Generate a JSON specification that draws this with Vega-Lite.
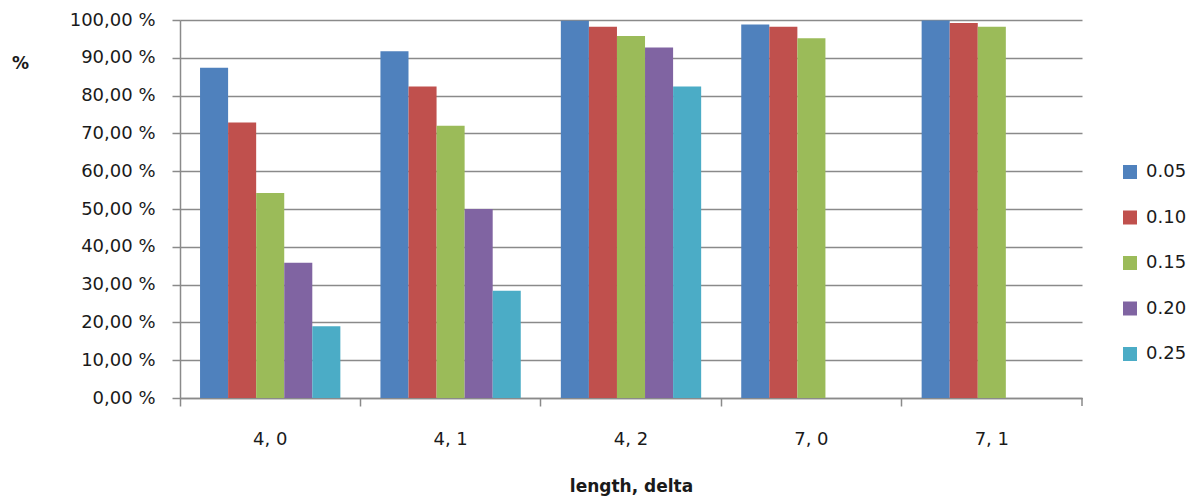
{
  "$schema": "https://vega.github.io/schema/vega-lite/v6.json",
  "width": 902,
  "height": 378,
  "autosize": {"type": "none"},
  "padding": {"left": 180, "top": 20, "right": 121, "bottom": 103},
  "background": "white",
  "config": {
    "view": {"stroke": null},
    "font": "DejaVu Sans",
    "axis": {
      "labelFont": "DejaVu Sans",
      "labelFontSize": 18,
      "labelColor": "#1a1a1a",
      "domainColor": "#8a8a8a",
      "domainWidth": 1.5,
      "tickColor": "#8a8a8a",
      "tickWidth": 1.5,
      "gridColor": "#8a8a8a",
      "gridWidth": 1.5,
      "titleFont": "DejaVu Sans",
      "titleFontWeight": "bold",
      "titleColor": "#1a1a1a"
    },
    "legend": {
      "labelFont": "DejaVu Sans",
      "labelFontSize": 18,
      "labelColor": "#1a1a1a"
    }
  },
  "data": {
    "values": [
      {"group": "4, 0", "series": "0.05", "pct": 87.4},
      {"group": "4, 0", "series": "0.10", "pct": 72.9},
      {"group": "4, 0", "series": "0.15", "pct": 54.2},
      {"group": "4, 0", "series": "0.20", "pct": 35.8},
      {"group": "4, 0", "series": "0.25", "pct": 19.0},
      {"group": "4, 1", "series": "0.05", "pct": 91.7},
      {"group": "4, 1", "series": "0.10", "pct": 82.4},
      {"group": "4, 1", "series": "0.15", "pct": 72.0},
      {"group": "4, 1", "series": "0.20", "pct": 50.0},
      {"group": "4, 1", "series": "0.25", "pct": 28.4},
      {"group": "4, 2", "series": "0.05", "pct": 99.8},
      {"group": "4, 2", "series": "0.10", "pct": 98.2},
      {"group": "4, 2", "series": "0.15", "pct": 95.8},
      {"group": "4, 2", "series": "0.20", "pct": 92.7},
      {"group": "4, 2", "series": "0.25", "pct": 82.4},
      {"group": "7, 0", "series": "0.05", "pct": 98.8},
      {"group": "7, 0", "series": "0.10", "pct": 98.2},
      {"group": "7, 0", "series": "0.15", "pct": 95.2},
      {"group": "7, 1", "series": "0.05", "pct": 99.9},
      {"group": "7, 1", "series": "0.10", "pct": 99.2},
      {"group": "7, 1", "series": "0.15", "pct": 98.2}
    ]
  },
  "layer": [
    {
      "mark": {"type": "bar"},
      "encoding": {
        "x": {
          "field": "group",
          "type": "nominal",
          "sort": null,
          "scale": {"paddingInner": 0, "paddingOuter": 0},
          "axis": {
            "title": "length, delta",
            "titleFontSize": 17,
            "titlePadding": 30,
            "labelAngle": 0,
            "labelPadding": 24,
            "tickSize": 8,
            "bandPosition": 0,
            "grid": false
          }
        },
        "xOffset": {
          "field": "series",
          "type": "nominal",
          "scale": {"domain": ["0.05", "0.10", "0.15", "0.20", "0.25"], "paddingInner": 0, "paddingOuter": 0.714}
        },
        "y": {
          "field": "pct",
          "type": "quantitative",
          "scale": {"domain": [0, 100], "nice": false},
          "axis": {
            "title": "%",
            "titleFontSize": 17,
            "titleAngle": 0,
            "titleAlign": "center",
            "titleBaseline": "middle",
            "titleX": -160,
            "titleY": 43,
            "values": [0, 10, 20, 30, 40, 50, 60, 70, 80, 90, 100],
            "labelExpr": "replace(format(datum.value, '.2f'), '.', ',') + ' %'",
            "labelOverlap": false,
            "tickSize": 8,
            "labelPadding": 17,
            "grid": true
          }
        },
        "color": {
          "field": "series",
          "type": "nominal",
          "scale": {
            "domain": ["0.05", "0.10", "0.15", "0.20", "0.25"],
            "range": ["#4F81BD", "#C0504D", "#9BBB59", "#8064A2", "#4BACC6"]
          },
          "legend": {
            "title": null,
            "orient": "none",
            "legendX": 941,
            "legendY": 143,
            "symbolType": "square",
            "symbolSize": 196,
            "symbolStrokeWidth": 0,
            "labelOffset": 7,
            "rowPadding": 27.5
          }
        }
      }
    },
    {
      "mark": {"type": "rule", "color": "#8a8a8a", "strokeWidth": 1.5},
      "data": {"values": [{"group": "7, 1", "pct": 0, "hi": -2.1}]},
      "encoding": {
        "x": {
          "field": "group",
          "type": "nominal",
          "sort": null,
          "bandPosition": 1,
          "scale": {"paddingInner": 0, "paddingOuter": 0},
          "axis": {
            "title": "length, delta",
            "titleFontSize": 17,
            "titlePadding": 30,
            "labelAngle": 0,
            "labelPadding": 24,
            "tickSize": 8,
            "bandPosition": 0,
            "grid": false
          }
        },
        "y": {
          "field": "pct",
          "type": "quantitative",
          "scale": {"domain": [0, 100], "nice": false},
          "axis": {
            "title": "%",
            "titleFontSize": 17,
            "titleAngle": 0,
            "titleAlign": "center",
            "titleBaseline": "middle",
            "titleX": -160,
            "titleY": 43,
            "values": [0, 10, 20, 30, 40, 50, 60, 70, 80, 90, 100],
            "labelExpr": "replace(format(datum.value, '.2f'), '.', ',') + ' %'",
            "labelOverlap": false,
            "tickSize": 8,
            "labelPadding": 17,
            "grid": true
          }
        },
        "y2": {"field": "hi"}
      }
    }
  ]
}
